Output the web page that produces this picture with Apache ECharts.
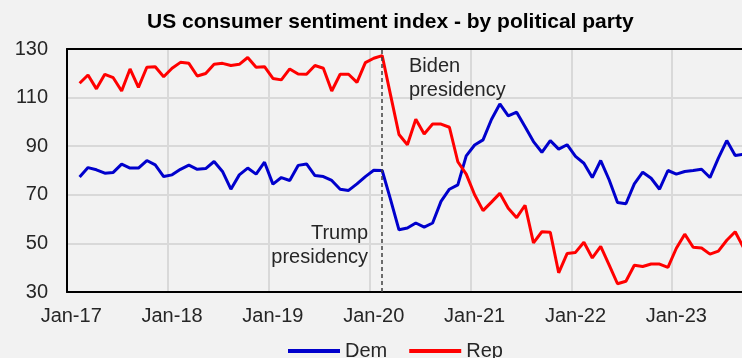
<!DOCTYPE html>
<html>
<head>
<meta charset="utf-8">
<script src="https://cdn.jsdelivr.net/npm/echarts@6/dist/echarts.min.js"></script>
<style>
  html, body { margin: 0; padding: 0; background: #f2f2f2; }
  #main { width: 742px; height: 358px; }
</style>
</head>
<body>
<div id="main"></div>
<script>
// monthly categories Jan-17 .. Dec-23
const monthNames = ['Jan', 'Feb', 'Mar', 'Apr', 'May', 'Jun', 'Jul', 'Aug', 'Sep', 'Oct', 'Nov', 'Dec'];
const years = ['17', '18', '19', '20', '21', '22', '23'];
const months = [];
years.forEach(y => monthNames.forEach(m => months.push(m + '-' + y)));

// values start at Feb-17, end Sep-23
const firstMonth = 'Feb-17';
const dem = [
  77.3, 81.2, 80.3, 78.9, 79.2, 82.6, 81.0, 81.0, 84.1, 82.3, 77.5,
  78.2, 80.5, 82.2, 80.5, 80.8, 83.7, 79.6, 72.3, 78.2, 81.0, 78.5, 83.4,
  74.4, 77.1, 75.9, 82.1, 82.7, 77.9, 77.5, 75.9, 72.3, 71.8, 74.5, 77.5,
  80.1, 80.0, 68.0, 55.6, 56.3, 58.4, 56.7, 58.4, 67.3, 72.3, 74.1, 86.0,
  90.5, 92.6, 101.0, 107.4, 102.5, 104.0, 98.0, 91.9, 87.5, 92.3, 88.8, 90.6,
  85.8, 83.0, 77.1, 84.1, 76.2, 66.8, 66.3, 74.5, 79.3, 76.8, 72.3, 80.0,
  78.5, 79.6, 80.0, 80.5, 77.1, 85.1, 92.3, 86.2, 86.7
];
const rep = [
  115.9, 119.3, 113.6, 119.6, 118.2, 112.7, 121.8, 114.2, 122.5, 122.7, 118.6,
  122.1, 124.5, 124.1, 118.9, 119.9, 123.7, 124.1, 123.2, 123.7, 126.5, 122.5, 122.7,
  117.9, 117.3, 121.8, 119.7, 119.6, 123.2, 122.1, 112.7, 119.6, 119.6, 116.3, 124.4,
  126.2, 127.3, 111.0, 94.8, 90.6, 101.1, 95.0, 99.1, 99.1, 97.8, 83.6, 78.5,
  70.0, 63.5, 67.0, 70.6, 64.5, 60.6, 65.7, 50.2, 54.8, 54.6, 37.9, 45.8,
  46.3, 50.5, 44.0, 48.8, 41.2, 33.4, 34.4, 41.0, 40.5, 41.5, 41.5, 40.1,
  48.0, 53.8, 48.4, 48.1, 45.6, 46.8, 51.3, 54.8, 48.2
];
const yTicks = { min: 30, max: 130, interval: 20 };
const splitMonth = 'Feb-20';

const lead = months.indexOf(firstMonth);
const pad = arr => new Array(lead).fill('-').concat(arr);

const font = 'Liberation Sans';
const txt = '#262626';
const chart = echarts.init(document.getElementById('main'));
chart.setOption({
  backgroundColor: '#f2f2f2',
  animation: false,
  title: {
    text: 'US consumer sentiment index - by political party',
    left: 142,
    top: 7,
    textStyle: { fontFamily: font, fontSize: 21, fontWeight: 'bold', color: '#000' }
  },
  grid: {
    left: 67, top: 49, right: -31, bottom: 66,
    outerBoundsMode: 'none'
  },
  legend: {
    bottom: -8,
    left: 283,
    itemWidth: 52,
    itemHeight: 4,
    itemGap: 22,
    icon: 'rect',
    textStyle: { fontFamily: font, fontSize: 20, color: txt },
    data: ['Dem', 'Rep']
  },
  xAxis: [
    {
      type: 'category',
      data: months,
      boundaryGap: true,
      axisLine: { show: true, lineStyle: { color: '#000', width: 2 } },
      axisTick: { show: false },
      axisLabel: {
        interval: i => i % 12 === 0,
        margin: 14,
        fontFamily: font, fontSize: 20, color: txt
      },
      splitLine: {
        show: true,
        interval: i => i % 12 === 0,
        lineStyle: { color: '#d9d9d9', width: 2 }
      }
    },
    {
      // top border of the plot
      type: 'category',
      position: 'top',
      data: months,
      axisLine: { show: true, lineStyle: { color: '#000', width: 2 } },
      axisTick: { show: false },
      axisLabel: { show: false },
      splitLine: { show: false }
    }
  ],
  yAxis: {
    type: 'value',
    min: yTicks.min,
    max: yTicks.max,
    interval: yTicks.interval,
    axisLine: { show: true, lineStyle: { color: '#000', width: 2 } },
    axisTick: { show: false },
    axisLabel: { margin: 19, fontFamily: font, fontSize: 20, color: txt },
    splitLine: { lineStyle: { color: '#d9d9d9', width: 2 } }
  },
  graphic: [
    { type: 'text', left: 409, top: 56, z: 10,
      style: { text: 'Biden', font: '20px ' + font, fill: txt } },
    { type: 'text', left: 409, top: 80, z: 10,
      style: { text: 'presidency', font: '20px ' + font, fill: txt } },
    { type: 'text', right: 742 - 368, top: 223, z: 10,
      style: { text: 'Trump', font: '20px ' + font, fill: txt } },
    { type: 'text', right: 742 - 368, top: 247, z: 10,
      style: { text: 'presidency', font: '20px ' + font, fill: txt } }
  ],
  series: [
    {
      name: 'Dem',
      type: 'line',
      data: pad(dem),
      color: '#0000cc',
      showSymbol: false,
      lineStyle: { width: 3 },
      markLine: {
        silent: true,
        symbol: ['none', 'none'],
        label: { show: false },
        lineStyle: { color: '#404040', type: [4, 3], width: 1.5 },
        data: [{ xAxis: splitMonth }]
      }
    },
    {
      name: 'Rep',
      type: 'line',
      data: pad(rep),
      color: '#ff0000',
      showSymbol: false,
      lineStyle: { width: 3 }
    }
  ]
});
</script>
</body>
</html>
